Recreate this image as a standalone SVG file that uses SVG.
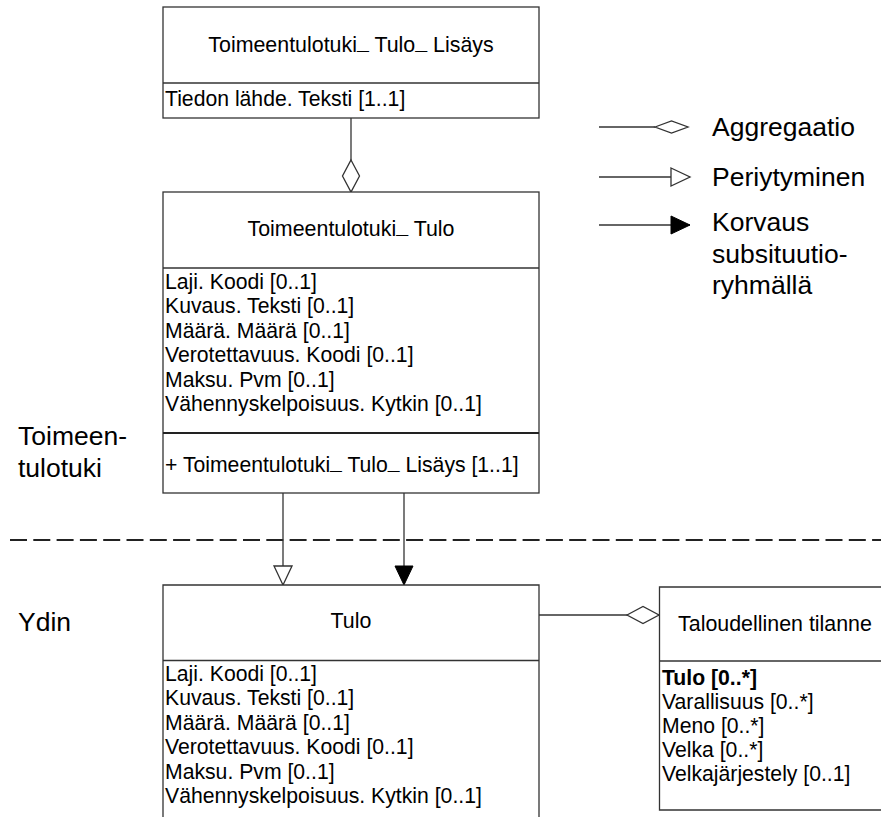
<svg xmlns="http://www.w3.org/2000/svg" width="881" height="827" viewBox="0 0 881 827">
  <style>
    .box { fill: #fff; stroke: #333; stroke-width: 1.3; }
    .sep { stroke: #333; stroke-width: 1.3; fill: none; }
    .sep2 { stroke: #222; stroke-width: 2; fill: none; }
    .edge { stroke: #333; stroke-width: 1.3; fill: none; }
    .t { font-family: "Liberation Sans", Arial, sans-serif; font-size: 21.4px; fill: #000; text-anchor: middle; }
    .a { font-family: "Liberation Sans", Arial, sans-serif; font-size: 21.2px; fill: #000; }
    .b { font-weight: bold; }
    .u { font-weight: bold; }
    .l { font-family: "Liberation Sans", Arial, sans-serif; font-size: 26.5px; fill: #000; }
    .open { fill: #fff; stroke: #333; stroke-width: 1.3; }
    .solid { fill: #000; stroke: #000; stroke-width: 1; }
    .dash { stroke: #222; stroke-width: 2; stroke-dasharray: 17 6.3; fill: none; }
  </style>
  <defs>
    <marker id="diamond" markerUnits="userSpaceOnUse" markerWidth="34" markerHeight="19" refX="32" refY="8.5" orient="auto" overflow="visible">
      <path class="open" d="M0,8.5 L16,0 L32,8.5 L16,17 Z"/>
    </marker>
    <marker id="triOpen" markerUnits="userSpaceOnUse" markerWidth="21" markerHeight="20" refX="19" refY="9" orient="auto" overflow="visible">
      <path class="open" d="M0,0 L19,9 L0,18 Z"/>
    </marker>
    <marker id="triSolid" markerUnits="userSpaceOnUse" markerWidth="21" markerHeight="20" refX="19" refY="9" orient="auto" overflow="visible">
      <path class="solid" d="M0,0 L19,9 L0,18 Z"/>
    </marker>
  </defs>

  <!-- package boundary -->
  <line class="dash" x1="10" y1="540" x2="881" y2="540"/>
  <text class="l" x="18" y="445">Toimeen-</text>
  <text class="l" x="18" y="477">tulotuki</text>
  <text class="l" x="18" y="631">Ydin</text>

  <!-- legend -->
  <g id="legend">
    <line class="edge" x1="599" y1="127" x2="655" y2="127"/>
    <polygon class="open" points="655,127 671.5,121 688,127 671.5,133"/>
    <text class="l" x="712" y="136">Aggregaatio</text>
    <line class="edge" x1="599" y1="177" x2="690" y2="177" marker-end="url(#triOpen)"/>
    <text class="l" x="712" y="186">Periytyminen</text>
    <line class="edge" x1="599" y1="225" x2="690" y2="225" marker-end="url(#triSolid)"/>
    <text class="l" x="712" y="231">Korvaus</text>
    <text class="l" x="712" y="263">subsituutio-</text>
    <text class="l" x="712" y="294">ryhmällä</text>
  </g>

  <!-- connectors -->
  <g id="connectors">
    <line class="edge" x1="351" y1="118" x2="351" y2="192" marker-end="url(#diamond)"/>
    <line class="edge" x1="283" y1="493" x2="283" y2="585" marker-end="url(#triOpen)"/>
    <line class="edge" x1="404" y1="493" x2="404" y2="585" marker-end="url(#triSolid)"/>
    <line class="edge" x1="539" y1="615" x2="659" y2="615" marker-end="url(#diamond)"/>
  </g>

  <g id="node-lisays">
    <rect class="box" x="163" y="7" width="376" height="111"/>
    <line class="sep" x1="163" y1="83" x2="539" y2="83"/>
    <text class="t" x="351" y="52">Toimeentulotuki<tspan class="u" dy="-3">_</tspan><tspan dy="3"> Tulo</tspan><tspan class="u" dy="-3">_</tspan><tspan dy="3"> Lisäys</tspan></text>
    <text class="a" x="165" y="106">Tiedon lähde. Teksti [1..1]</text>
  </g>

  <g id="node-tt-tulo">
    <rect class="box" x="163" y="192" width="376" height="301"/>
    <line class="sep" x1="163" y1="268" x2="539" y2="268"/>
    <line class="sep2" x1="163" y1="433" x2="539" y2="433"/>
    <text class="t" x="351" y="236">Toimeentulotuki<tspan class="u" dy="-3">_</tspan><tspan dy="3"> Tulo</tspan></text>
    <text class="a" x="165" y="288.5">Laji. Koodi [0..1]</text>
    <text class="a" x="165" y="313">Kuvaus. Teksti [0..1]</text>
    <text class="a" x="165" y="337.5">Määrä. Määrä [0..1]</text>
    <text class="a" x="165" y="362">Verotettavuus. Koodi [0..1]</text>
    <text class="a" x="165" y="386.5">Maksu. Pvm [0..1]</text>
    <text class="a" x="165" y="411">Vähennyskelpoisuus. Kytkin [0..1]</text>
    <text class="a" x="165" y="472">+ Toimeentulotuki<tspan class="u" dy="-3">_</tspan><tspan dy="3"> Tulo</tspan><tspan class="u" dy="-3">_</tspan><tspan dy="3"> Lisäys [1..1]</tspan></text>
  </g>

  <g id="node-tulo">
    <path class="box" d="M163,817 V585 H539 V817"/>
    <line class="sep" x1="163" y1="660.5" x2="539" y2="660.5"/>
    <text class="t" x="351" y="628">Tulo</text>
    <text class="a" x="165" y="680.5">Laji. Koodi [0..1]</text>
    <text class="a" x="165" y="705">Kuvaus. Teksti [0..1]</text>
    <text class="a" x="165" y="729.5">Määrä. Määrä [0..1]</text>
    <text class="a" x="165" y="754">Verotettavuus. Koodi [0..1]</text>
    <text class="a" x="165" y="778.5">Maksu. Pvm [0..1]</text>
    <text class="a" x="165" y="803">Vähennyskelpoisuus. Kytkin [0..1]</text>
  </g>

  <g id="node-taloudellinen">
    <path class="box" d="M882,587 H659.5 V810 H882"/>
    <line class="sep" x1="659.5" y1="661" x2="881" y2="661"/>
    <text class="t" x="775" y="631">Taloudellinen tilanne</text>
    <text class="a b" x="662" y="685">Tulo [0..*]</text>
    <text class="a" x="662" y="709">Varallisuus [0..*]</text>
    <text class="a" x="662" y="733">Meno [0..*]</text>
    <text class="a" x="662" y="757">Velka [0..*]</text>
    <text class="a" x="662" y="781">Velkajärjestely [0..1]</text>
  </g>
</svg>
